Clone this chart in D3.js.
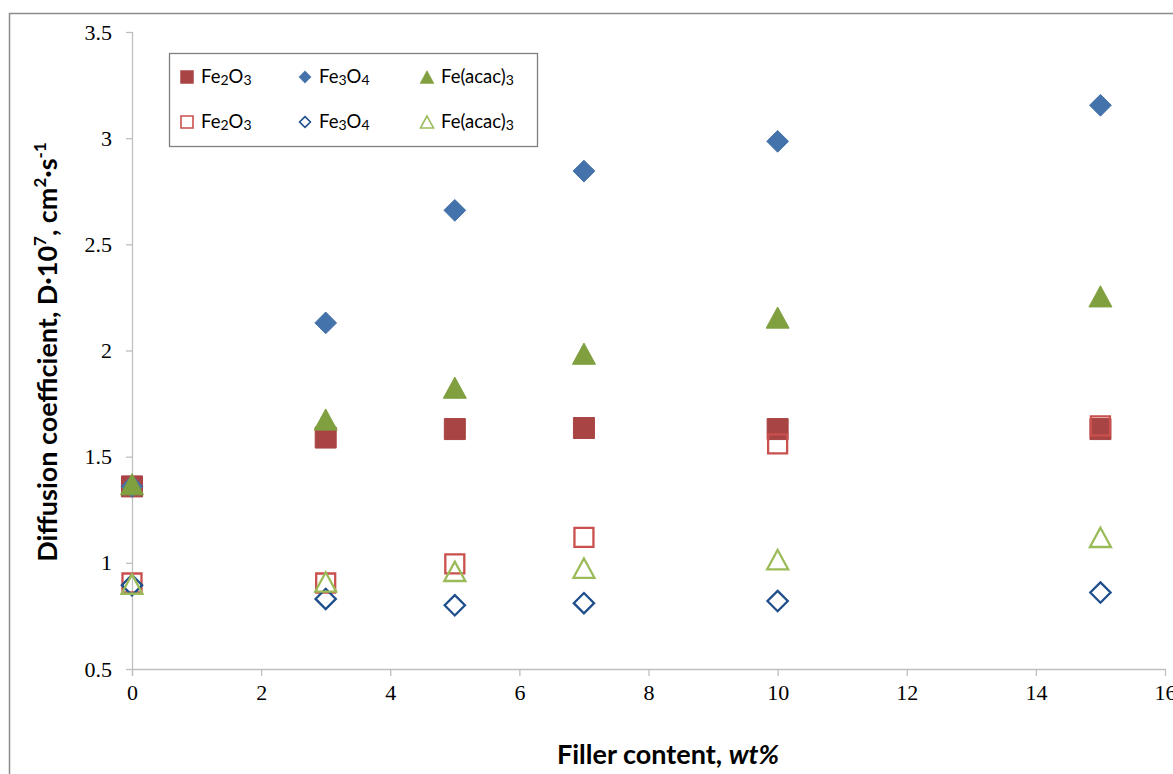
<!DOCTYPE html>
<html>
<head>
<meta charset="utf-8">
<script src="https://cdn.jsdelivr.net/npm/d3@7"></script>
<style>
  body { margin: 0; background: #fff; }
</style>
</head>
<body>
<div class="vis-scatter"></div>
<script>
const filler = [0, 3, 5, 7, 10, 15];
const fe2o3Filled = [1.36, 1.59, 1.63, 1.635, 1.63, 1.63];
const fe3o4Filled = [1.36, 2.13, 2.66, 2.845, 2.985, 3.155];
const feacacFilled = [1.37, 1.675, 1.825, 1.985, 2.155, 2.255];
const fe2o3Open = [0.905, 0.905, 0.995, 1.12, 1.56, 1.645];
const fe3o4Open = [0.895, 0.83, 0.80, 0.81, 0.82, 0.86];
const feacacOpen = [0.90, 0.91, 0.96, 0.975, 1.015, 1.12];
const xTicks = [0, 2, 4, 6, 8, 10, 12, 14, 16];
const yTicks = [0.5, 1, 1.5, 2, 2.5, 3, 3.5];

const W = 1173, H = 774;
const margin = { top: 32, right: 8, bottom: 105, left: 132 };
const width = W - margin.left - margin.right;
const height = H - margin.top - margin.bottom;

const svg = d3.select(".vis-scatter").append("svg")
  .attr("width", W).attr("height", H);

// chart frame
svg.append("path")
  .attr("d", "M9.5," + H + " V13.5 H" + W)
  .attr("fill", "none").attr("stroke", "#8c8c8c").attr("stroke-width", 1.5);

const g = svg.append("g")
  .attr("transform", "translate(" + margin.left + "," + margin.top + ")");

const x = d3.scaleLinear().domain([0, 16]).range([0, width]);
const y = d3.scaleLinear().domain([0.5, 3.5]).range([height, 0]);

const xAxis = g.append("g")
  .attr("transform", "translate(0," + height + ")")
  .call(d3.axisBottom(x).tickValues(xTicks).tickSize(7).tickSizeOuter(0).tickPadding(8).tickFormat(d3.format("d")));
const yAxis = g.append("g")
  .call(d3.axisLeft(y).tickValues(yTicks).tickSize(6).tickSizeOuter(0).tickPadding(14).tickFormat(d => d));

[xAxis, yAxis].forEach(a => {
  a.selectAll("path, line").attr("stroke", "#bfbfbf").attr("stroke-width", 1.3);
  a.attr("font-family", "Liberation Serif, Times New Roman, serif").attr("font-size", 22);
  a.selectAll("text").attr("fill", "#000");
});
// extend y axis down a bit past the x axis, as in the original
yAxis.select(".domain").attr("d", "M0.5,0 V" + (height + 7));

const sq = 21, di = 15, tri = 23;
const series = [
  { values: fe2o3Filled, shape: "square", fill: "#a94444", stroke: "#c0504d" },
  { values: fe2o3Open, shape: "square", fill: "#fff", stroke: "#c9504d", open: true },
  { values: fe3o4Filled, shape: "diamond", fill: "#4472aa", stroke: "#4f81bd" },
  { values: feacacFilled, shape: "triangle", fill: "#80a040", stroke: "#8eb04a" },
  { values: fe3o4Open, shape: "diamond", fill: "#fff", stroke: "#1f4e8c", open: true },
  { values: feacacOpen, shape: "triangle", fill: "#fff", stroke: "#9bbb59", open: true }
];

function shapePath(shape, s) {
  if (shape === "square") {
    const h = s / 2;
    return "M" + -h + "," + -h + "H" + h + "V" + h + "H" + -h + "Z";
  }
  if (shape === "diamond") {
    return "M0," + -s / 2 * 1.45 + "L" + s / 2 * 1.45 + ",0L0," + s / 2 * 1.45 + "L" + -s / 2 * 1.45 + ",0Z";
  }
  const h = s * 0.92;
  return "M0," + (-h / 2) + "L" + s / 2 + "," + h / 2 + "L" + -s / 2 + "," + h / 2 + "Z";
}
function sizeOf(shape, open) {
  if (shape === "square") return open ? sq - 2 : sq;
  if (shape === "diamond") return open ? di - 1 : di;
  return open ? tri - 2 : tri;
}

series.forEach(s => {
  g.append("g").selectAll("path")
    .data(filler.map((f, i) => ({ x: f, y: s.values[i] })))
    .join("path")
    .attr("transform", d => "translate(" + x(d.x) + "," + y(d.y) + ")")
    .attr("d", shapePath(s.shape, sizeOf(s.shape, s.open)))
    .attr("fill", s.open ? "none" : s.fill)
    .attr("stroke", s.open ? s.stroke : s.fill)
    .attr("stroke-width", s.open ? 2.3 : 1);
});

// legend
const legend = svg.append("g");
legend.append("rect")
  .attr("x", 169.5).attr("y", 53.5).attr("width", 368).attr("height", 93)
  .attr("fill", "#fff").attr("stroke", "#7f7f7f").attr("stroke-width", 1.3);

const legendItems = [
  { label: ["Fe", "2", "O", "3"], shape: "square", fill: "#a94444", stroke: "#a94444", col: 0, row: 0 },
  { label: ["Fe", "3", "O", "4"], shape: "diamond", fill: "#4472aa", stroke: "#4472aa", col: 1, row: 0 },
  { label: ["Fe(acac)", "3"], shape: "triangle", fill: "#80a040", stroke: "#80a040", col: 2, row: 0 },
  { label: ["Fe", "2", "O", "3"], shape: "square", fill: "none", stroke: "#c9504d", col: 0, row: 1, open: true },
  { label: ["Fe", "3", "O", "4"], shape: "diamond", fill: "none", stroke: "#1f4e8c", col: 1, row: 1, open: true },
  { label: ["Fe(acac)", "3"], shape: "triangle", fill: "none", stroke: "#9bbb59", col: 2, row: 1, open: true }
];
const colX = [187, 305, 427], rowY = [77, 122];
const legendSizes = { square: 13, diamond: 8.5, triangle: 14 };

legendItems.forEach(it => {
  const cx = colX[it.col], cy = rowY[it.row];
  legend.append("path")
    .attr("transform", "translate(" + cx + "," + cy + ")")
    .attr("d", shapePath(it.shape, it.open ? legendSizes[it.shape] - 1 : legendSizes[it.shape]))
    .attr("fill", it.fill).attr("stroke", it.stroke).attr("stroke-width", it.open ? 1.6 : 0.5);
  const t = legend.append("text")
    .attr("x", cx + 14).attr("y", cy + 6)
    .attr("font-family", "Lato, Open Sans, sans-serif").attr("font-size", 18.5).attr("fill", "#000");
  it.label.forEach((part, i) => {
    const sub = i % 2 === 1;
    t.append("tspan").text(part)
      .attr("font-size", sub ? 14 : 18.5)
      .attr("dy", sub ? 2 : (i > 0 ? -2 : null));
  });
});

// axis titles
svg.append("text")
  .attr("x", 668).attr("y", 764)
  .attr("text-anchor", "middle")
  .attr("font-family", "Lato, Open Sans, sans-serif").attr("font-weight", "bold")
  .attr("font-size", 27).attr("fill", "#000")
  .call(t => {
    t.append("tspan").text("Filler content, ");
    t.append("tspan").text("wt%").attr("font-style", "italic");
  });

const yt = svg.append("text")
  .attr("transform", "translate(57,352) rotate(-90)")
  .attr("text-anchor", "middle")
  .attr("font-family", "Lato, Open Sans, sans-serif").attr("font-weight", "bold")
  .attr("font-size", 27).attr("fill", "#000");
yt.append("tspan").text("Diffusion coefficient, D·10");
yt.append("tspan").text("7").attr("font-size", 17).attr("dy", -11);
yt.append("tspan").text(", cm").attr("dy", 11);
yt.append("tspan").text("2").attr("font-size", 17).attr("dy", -11);
yt.append("tspan").text("·s").attr("dy", 11);
yt.append("tspan").text("-1").attr("font-size", 17).attr("dy", -11);
</script>
</body>
</html>
